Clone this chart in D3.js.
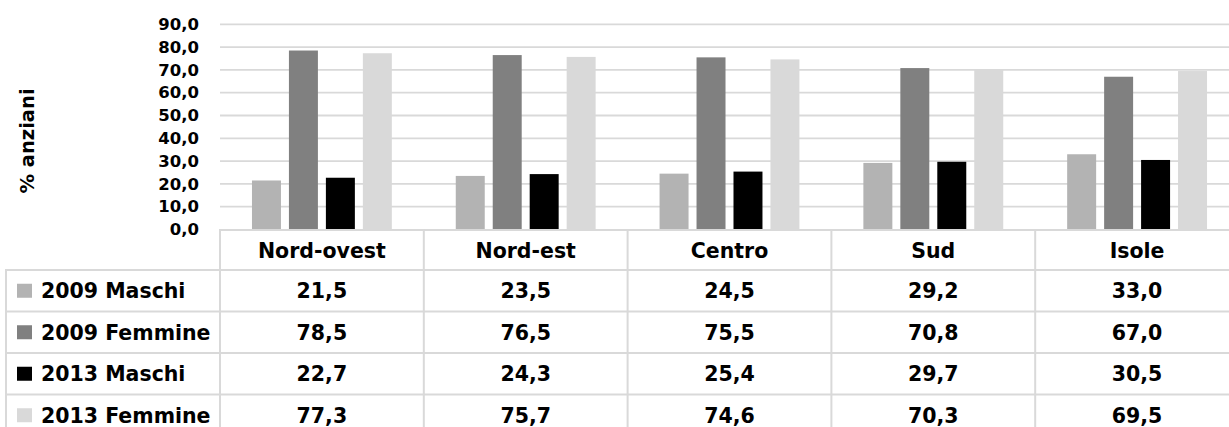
<!DOCTYPE html>
<html><head><meta charset="utf-8">
<script src="https://cdn.jsdelivr.net/npm/d3@7"></script>
<style>
html,body{margin:0;padding:0;background:#fff;overflow:hidden}
text{font-family:"DejaVu Sans",sans-serif;font-weight:bold;fill:#000}
</style></head><body>
<script>
const categories = ["Nord-ovest","Nord-est","Centro","Sud","Isole"];
const seriesNames = ["2009 Maschi","2009 Femmine","2013 Maschi","2013 Femmine"];
const m2009 = [21.5,23.5,24.5,29.2,33.0];
const f2009 = [78.5,76.5,75.5,70.8,67.0];
const m2013 = [22.7,24.3,25.4,29.7,30.5];
const f2013 = [77.3,75.7,74.6,70.3,69.5];
const yTicks = [0,10,20,30,40,50,60,70,80,90];
const colors = ["#b3b3b3","#808080","#000000","#d9d9d9"];
const series = [m2009,f2009,m2013,f2013];

const W=1229,H=427;
const svg=d3.select("body").append("svg").attr("width",W).attr("height",H);
const plotLeft=220, bandW=203.8;
const x=d3.scaleBand().domain(categories).range([plotLeft,plotLeft+bandW*categories.length]).padding(0);
const xi=d3.scaleBand().domain(seriesNames).range([0,x.bandwidth()]).paddingInner(0.216).paddingOuter(0.865);
const y=d3.scaleLinear().domain([0,90]).range([229.5,24.3]);
const fmt=v=>d3.format(".1f")(v).replace(".",",");

// gridlines
svg.append("g").selectAll("line").data(yTicks.filter(t=>t>0)).join("line")
 .attr("x1",plotLeft).attr("x2",W).attr("y1",d=>y(d)).attr("y2",d=>y(d))
 .attr("stroke","#d9d9d9").attr("stroke-width",1.8);

// y axis labels
const yAxis=d3.axisLeft(y).tickValues(yTicks).tickFormat(fmt).tickSize(0).tickPadding(0);
const ga=svg.append("g").attr("transform","translate(199,0)").call(yAxis);
ga.select(".domain").remove();
ga.selectAll("text").attr("font-size",16.5).attr("font-family","DejaVu Sans").attr("font-weight","bold").attr("fill","#000");

// axis title
svg.append("text").attr("transform","translate(34,141) rotate(-90)").attr("text-anchor","middle")
 .attr("font-size",19.5).text("% anziani");

// bars
seriesNames.forEach((s,si)=>{
  svg.append("g").selectAll("rect").data(categories).join("rect")
   .attr("x",(c)=>x(c)+xi(s)).attr("width",xi.bandwidth())
   .attr("y",(c,i)=>y(series[si][i])).attr("height",(c,i)=>y(0)-y(series[si][i]))
   .attr("fill",colors[si]);
});

// table
const rowTops=[230,270,311.5,353,394.5,436];
const lineC="#d9d9d9", lw=2;
const tg=svg.append("g");
tg.append("line").attr("x1",plotLeft).attr("x2",W+20).attr("y1",230).attr("y2",230).attr("stroke",lineC).attr("stroke-width",lw);
rowTops.slice(1,5).forEach(t=>tg.append("line").attr("x1",6).attr("x2",W+20).attr("y1",t).attr("y2",t).attr("stroke",lineC).attr("stroke-width",lw));
tg.append("line").attr("x1",6).attr("x2",6).attr("y1",269).attr("y2",H+5).attr("stroke",lineC).attr("stroke-width",lw);
categories.forEach(c=>tg.append("line").attr("x1",x(c)).attr("x2",x(c)).attr("y1",229).attr("y2",H+5).attr("stroke",lineC).attr("stroke-width",lw));
// header text
svg.append("g").selectAll("text").data(categories).join("text")
 .attr("x",c=>x(c)+x.bandwidth()/2).attr("y",rowTops[0]+28).attr("text-anchor","middle")
 .attr("font-size",20.5).text(c=>c);
// rows
seriesNames.forEach((s,si)=>{
  const top=rowTops[si+1], h=rowTops[si+2]-top, base=top+h/2+7.5;
  svg.append("rect").attr("x",17).attr("y",top+h/2-7).attr("width",15).attr("height",14).attr("fill",colors[si]);
  svg.append("text").attr("x",41).attr("y",base).attr("font-size",20.5).text(s);
  svg.append("g").selectAll("text").data(categories).join("text")
   .attr("x",c=>x(c)+x.bandwidth()/2).attr("y",base).attr("text-anchor","middle")
   .attr("font-size",20.5).text((c,i)=>fmt(series[si][i]));
});
</script></body></html>
